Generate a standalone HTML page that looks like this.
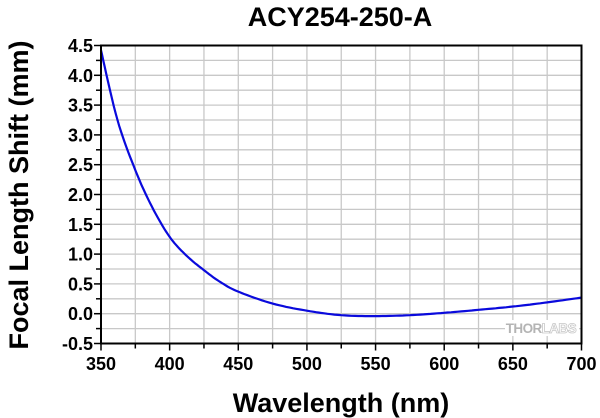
<!DOCTYPE html>
<html><head><style>
body{margin:0;background:#fff;}
svg{display:block;font-family:"Liberation Sans",Arial,sans-serif;font-weight:bold;}
</style></head><body>
<svg id="s" width="600" height="418" viewBox="0 0 600 418" xmlns="http://www.w3.org/2000/svg">
<g id="grid" stroke="#c8c8c8" stroke-width="1.3"></g>
<rect x="505" y="320" width="74" height="16" fill="#fff"/>
<text x="576" y="333" font-size="13.5" fill="#b4b4b4" text-anchor="end" letter-spacing="-0.6">THOR<tspan fill="#fff" stroke="#c8c8c8" stroke-width="0.8">LABS</tspan></text>
<polyline id="curve" fill="none" stroke="#0a0adc" stroke-width="2.2" stroke-linejoin="round"/>
<rect x="101" y="45.5" width="480.5" height="298" fill="none" stroke="#000" stroke-width="2"/>
<g id="ticks" stroke="#000" stroke-width="1.5"></g>
<g id="lab" font-size="18" fill="#000"></g>
<text x="340" y="26" font-size="27" text-anchor="middle">ACY254-250-A</text>
<text x="341" y="412" font-size="27" text-anchor="middle">Wavelength (nm)</text>
<text transform="translate(28,195) rotate(-90)" font-size="27" text-anchor="middle">Focal Length Shift (mm)</text>
</svg>
<script>
var X=function(l){return 101+(l-350)*480.5/350},Y=function(v){return 45.5+(4.5-v)*59.6};
var ns="http://www.w3.org/2000/svg";
function el(p,t,a,txt){var e=document.createElementNS(ns,t);for(var k in a)e.setAttribute(k,a[k]);if(txt)e.textContent=txt;p.appendChild(e);}
var g=document.getElementById('grid'),tk=document.getElementById('ticks'),lb=document.getElementById('lab');
for(var l=375;l<700;l+=25)el(g,'line',{x1:X(l),x2:X(l),y1:45.5,y2:343.5});
for(var v=-0.25;v<4.5;v+=0.25)el(g,'line',{x1:101,x2:581.5,y1:Y(v),y2:Y(v)});
for(var l=350;l<=700;l+=25){var maj=(l%50==0);el(tk,'line',{x1:X(l),x2:X(l),y1:343.5,y2:343.5+(maj?7:5)});if(maj)el(lb,'text',{x:X(l),y:370,'text-anchor':'middle'},String(l));}
for(var i=0;i<=20;i++){var v=-0.5+i*0.25,maj=(i%2==0);el(tk,'line',{x1:101,x2:101-(maj?7:5),y1:Y(v),y2:Y(v)});if(maj)el(lb,'text',{x:93,y:Y(v)+6.5,'text-anchor':'end'},v.toFixed(1));}
var pts=[[350,4.42],[362,3.25],[375,2.41],[387,1.8],[400,1.29],[412,0.98],[425,0.73],[437,0.53],[450,0.37],[475,0.17],[500,0.05],[525,-0.025],[550,-0.04],[575,-0.025],[600,0.015],[625,0.065],[650,0.12],[675,0.19],[700,0.27]];
var out=[];
for(var i=0;i<pts.length-1;i++){var p0=pts[Math.max(0,i-1)],p1=pts[i],p2=pts[i+1],p3=pts[Math.min(pts.length-1,i+2)];
for(var s=0;s<10;s++){var t=s/10,t2=t*t,t3=t2*t;
var f=function(k){return 0.5*((2*p1[k])+(-p0[k]+p2[k])*t+(2*p0[k]-5*p1[k]+4*p2[k]-p3[k])*t2+(-p0[k]+3*p1[k]-3*p2[k]+p3[k])*t3);};
out.push([f(0),f(1)]);}}
out.push(pts[pts.length-1]);
document.getElementById('curve').setAttribute('points',out.map(function(p){return X(p[0]).toFixed(1)+','+Y(p[1]).toFixed(1)}).join(' '));
</script>
</body></html>
